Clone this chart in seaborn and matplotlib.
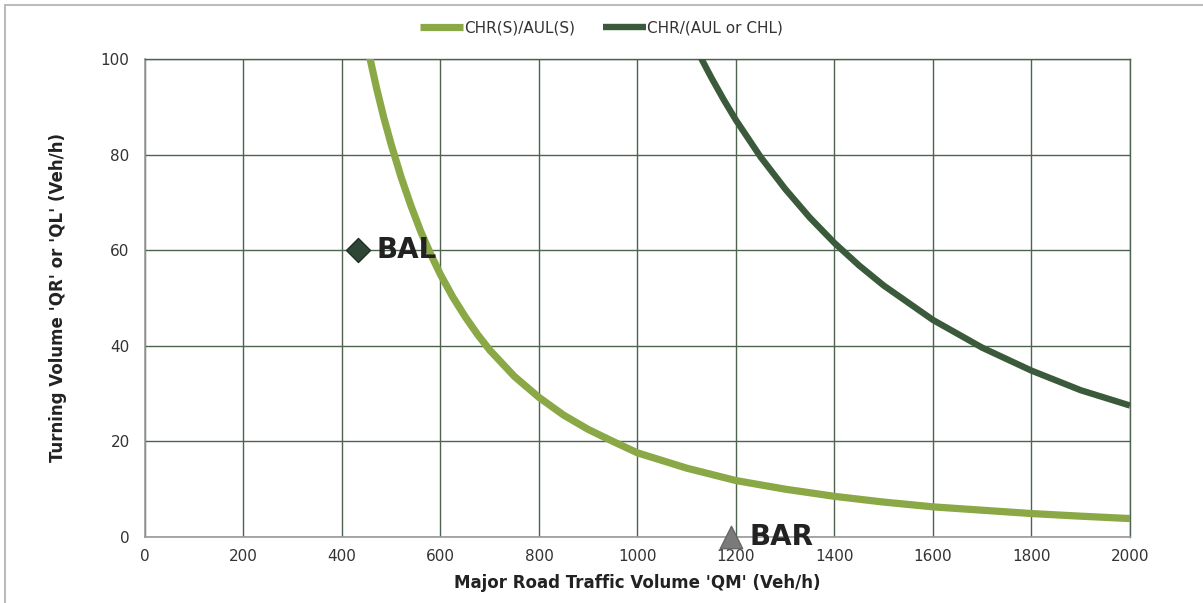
import matplotlib
matplotlib.use('Agg')
import matplotlib.pyplot as plt
from matplotlib.patches import Rectangle
import numpy as np
import pandas as pd
import seaborn as sns

# 数据
chr_s_x = [455, 470, 485, 500, 520, 540, 560, 580, 600, 625, 650, 675, 700,
           750, 800, 850, 900, 950, 1000, 1100, 1200, 1300, 1400, 1500,
           1600, 1700, 1800, 1900, 2000]
chr_s_y = [101, 94.0, 87.7, 82.1, 75.3, 69.3, 63.9, 59.2, 54.9, 50.2, 46.1,
           42.4, 39.1, 33.6, 29.2, 25.5, 22.5, 20.0, 17.6, 14.4, 11.8, 10.0,
           8.5, 7.3, 6.3, 5.6, 4.9, 4.35, 3.85]

chr_x = [1125, 1150, 1175, 1200, 1250, 1300, 1350, 1400, 1450, 1500, 1600,
         1700, 1800, 1900, 2000]
chr_y = [101, 96.1, 91.5, 87.2, 79.5, 72.8, 66.8, 61.5, 56.8, 52.6, 45.4,
         39.6, 34.8, 30.7, 27.5]

series_names = ['CHR(S)/AUL(S)', 'CHR/(AUL or CHL)']
series_colors = ['#8aa845', '#3a5a3b']

point_names = ['BAL', 'BAR']
point_x = [433, 1190]
point_y = [60, 0]

df = pd.concat([
    pd.DataFrame({'QM': chr_s_x, 'Q': chr_s_y, 'series': series_names[0]}),
    pd.DataFrame({'QM': chr_x, 'Q': chr_y, 'series': series_names[1]}),
])

sns.set_style("whitegrid")
plt.rcParams['font.family'] = ['DejaVu Sans']

fig = plt.figure(figsize=(12.03, 6.03), dpi=100)
ax = fig.add_axes([0.1205, 0.1095, 0.8188, 0.7927])

for name, color, lw in zip(series_names, series_colors, [5.2, 4.6]):
    sub = df[df['series'] == name]
    sns.lineplot(data=sub, x='QM', y='Q', color=color, lw=lw, ax=ax,
                 label=name, legend=False, solid_capstyle='butt',
                 solid_joinstyle='round', zorder=3)

# 标记点
ax.scatter(point_x[0], point_y[0], marker='D', s=150, color='#2f4636',
           edgecolor='#1f3024', zorder=5, clip_on=False)
ax.scatter(point_x[1], point_y[1], marker='^', s=260, color='#7a7a7a',
           edgecolor='#666666', zorder=5, clip_on=False)
for name, px, py in zip(point_names, point_x, point_y):
    ax.annotate(name, (px, py), xytext=(13, 0), textcoords='offset points',
                fontsize=20, fontweight='bold', color='#222222',
                va='center', ha='left', zorder=6)

ax.set_xlim(0, 2000)
ax.set_ylim(0, 100)
ax.set_xticks(np.arange(0, 2001, 200))
ax.set_yticks(np.arange(0, 101, 20))
ax.grid(True, color='#4e634f', lw=1.0)
ax.set_axisbelow(True)

for s in ['top', 'right']:
    ax.spines[s].set_visible(True)
    ax.spines[s].set_color('#4e634f')
    ax.spines[s].set_linewidth(1.0)
for s in ['left', 'bottom']:
    ax.spines[s].set_visible(True)
    ax.spines[s].set_color('#999999')
    ax.spines[s].set_linewidth(1.2)

ax.tick_params(axis='both', which='major', length=5, width=1, color='#999999',
               labelsize=11, labelcolor='#333333', direction='out')
ax.tick_params(axis='x', pad=4)
ax.tick_params(axis='y', pad=6)

ax.set_xlabel("Major Road Traffic Volume 'QM' (Veh/h)", fontsize=12,
              fontweight='bold', color='#222222', labelpad=7)
ax.set_ylabel("Turning Volume 'QR' or 'QL' (Veh/h)", fontsize=12,
              fontweight='bold', color='#222222', labelpad=24)

handles, labels = ax.get_legend_handles_labels()
fig.legend(handles, labels, loc='center', bbox_to_anchor=(0.5, 0.953), ncol=2,
           frameon=False, fontsize=11, handlelength=2.8, handletextpad=0.1,
           columnspacing=1.8, labelcolor='#333333')

# 外框
fig.patches.append(Rectangle((5 / 1203, -0.1), 1.2, 1.1 - 5 / 603,
                             transform=fig.transFigure, fill=False,
                             edgecolor='#bbbbbb', lw=1.5))

fig.savefig('out.png', dpi=100)
